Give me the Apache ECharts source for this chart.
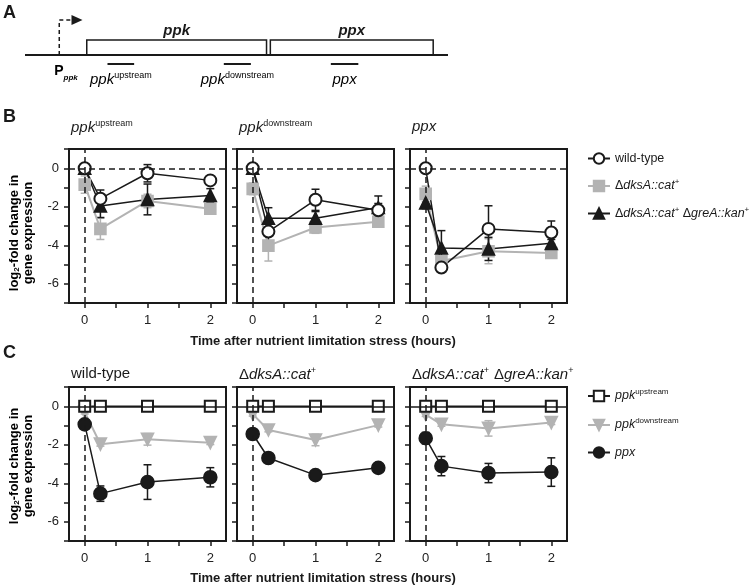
<!DOCTYPE html>
<html>
<head>
<meta charset="utf-8">
<script src="https://cdn.jsdelivr.net/npm/echarts@6/dist/echarts.min.js"></script>
<style>html,body{margin:0;padding:0;background:#fff}</style>
</head>
<body>
<div id="chart" style="width:750px;height:586px;"></div>
<script>
// ---- panel A : operon map (arbitrary position units 0..100) ----
const operonSpan = [0, 100];
const geneNames = ['ppk', 'ppx'];
const geneStart = [14.6, 58.0];
const geneEnd = [57.1, 96.5];
const promoterPos = [8.1];
const arrowTip = [13.6];
const primerLabels = ['{i|ppk}{s|upstream}', '{i|ppk}{s|downstream}', '{i|ppx}'];
const primerStart = [19.5, 47.0, 72.3];
const primerEnd = [25.8, 53.4, 78.8];

// ---- panels B and C : time course ----
const timePoints = [0, 0.25, 1, 2];
const xTicks = [0, 0.5, 1, 1.5, 2];
const xLabels = [0, 1, 2];
const yLabels = [0, -2, -4, -6];

// panel B, rows = ppk upstream / ppk downstream / ppx
const wtB = [[0, -1.58, -0.26, -0.63], [0, -3.29, -1.64, -2.18], [0, -5.16, -3.15, -3.34]];
const wtBErr = [[0.1, 0.45, 0.45, 0.2], [0.1, 0.5, 0.55, 0.35], [0.1, 0.1, 1.2, 0.6]];
const dksB = [[-0.85, -3.15, -1.7, -2.1], [-1.07, -4.02, -3.08, -2.78], [-1.33, -4.82, -4.31, -4.4]];
const dksBErr = [[0.45, 0.55, 0.35, 0.1], [0.3, 0.8, 0.3, 0.25], [0.4, 0.2, 0.65, 0.2]];
const greB = [[0, -1.96, -1.62, -1.41], [0, -2.6, -2.6, -2.04], [-1.8, -4.14, -4.19, -3.9]];
const greBErr = [[0.1, 0.6, 0.8, 0.35], [0.1, 0.55, 0.35, 0.6], [0.3, 0.9, 0.6, 0.2]];

// panel C, rows = wild-type / dksA / dksA greA
const upC = [[0, 0, 0, 0], [0, 0, 0, 0], [0, 0, 0, 0]];
const upCErr = [[0.05, 0.05, 0.05, 0.05], [0.05, 0.05, 0.05, 0.05], [0.05, 0.05, 0.05, 0.05]];
const downC = [[-0.3, -1.97, -1.72, -1.89], [-0.41, -1.23, -1.75, -0.98], [-0.43, -0.94, -1.15, -0.85]];
const downCErr = [[0.1, 0.1, 0.3, 0.1], [0.1, 0.1, 0.3, 0.1], [0.1, 0.1, 0.4, 0.1]];
const ppxC = [[-0.94, -4.54, -3.94, -3.69], [-1.44, -2.69, -3.58, -3.2], [-1.66, -3.11, -3.47, -3.42]];
const ppxCErr = [[0.1, 0.4, 0.9, 0.5], [0.1, 0.1, 0.1, 0.1], [0.3, 0.5, 0.5, 0.74]];

const titlesB = ['{i|ppk}{s|upstream}', '{i|ppk}{s|downstream}', '{i|ppx}'];
const titlesC = ['{n|wild-type}', '{n|Δ}{i|dksA::cat}{s|+}', '{n|Δ}{i|dksA::cat}{s|+} {n|Δ}{i|greA::kan}{s|+}'];

const FONT = '"Liberation Sans", Arial, Helvetica, sans-serif';
const BLACK = '#1a1a1a';
const GRAY = '#b3b3b3';
const richText = {
  i: { fontStyle: 'italic', fontWeight: 'normal', fontSize: 15, fontFamily: FONT, color: BLACK },
  n: { fontWeight: 'normal', fontSize: 15, fontFamily: FONT, color: BLACK },
  s: { fontWeight: 'normal', fontSize: 9, fontFamily: FONT, color: BLACK, verticalAlign: 'top', lineHeight: 18 }
};
const legendRich = {
  i: { fontStyle: 'italic', fontSize: 12.5, fontFamily: FONT, color: BLACK },
  n: { fontSize: 12.5, fontFamily: FONT, color: BLACK },
  s: { fontSize: 8, fontFamily: FONT, color: BLACK, verticalAlign: 'top', lineHeight: 16 }
};

const gridLefts = [69, 237, 410];
const rowTops = [149, 387];

var chart = echarts.init(document.getElementById('chart'));

const grids = [], xAxes = [], yAxes = [], series = [], titles = [];

rowTops.forEach(function (top, r) {
  gridLefts.forEach(function (left, c) {
    grids.push({ left: left, top: top, width: 157, height: 154, show: true,
      borderColor: BLACK, borderWidth: 2, backgroundColor: 'transparent' });
    const gi = grids.length - 1;
    xAxes.push({
      type: 'value', gridIndex: gi, min: -0.25, max: 2.25,
      axisLine: { show: true, onZero: false, lineStyle: { color: BLACK, width: 2 } },
      axisTick: { show: true, customValues: xTicks, length: 5, lineStyle: { color: BLACK, width: 1.5 } },
      axisLabel: { customValues: xLabels, color: '#222', fontSize: 13, fontFamily: FONT, margin: 11 },
      splitLine: { show: false }
    });
    yAxes.push({
      type: 'value', gridIndex: gi, min: -7, max: 1, interval: 1,
      axisLine: { show: true, onZero: false, lineStyle: { color: BLACK, width: 2 } },
      axisTick: { show: true, length: 5, lineStyle: { color: BLACK, width: 1.5 } },
      axisLabel: { show: c === 0, customValues: yLabels, color: '#222', fontSize: 13, fontFamily: FONT, margin: 10 },
      splitLine: { show: false }
    });
    titles.push({
      text: r === 0 ? titlesB[c] : titlesC[c],
      left: left + 2, top: r === 0 ? 119 : 366, padding: 0,
      textStyle: { fontWeight: 'normal', rich: richText }
    });
  });
});

function errorBars(gi, vals, errs, color) {
  return {
    type: 'custom', xAxisIndex: gi, yAxisIndex: gi, z: 1, silent: true,
    data: timePoints.map(function (t, i) { return [t, vals[i], errs[i]]; }),
    encode: { x: 0, y: 1 },
    renderItem: function (params, api) {
      const x = api.value(0), y = api.value(1), e = api.value(2);
      const a = api.coord([x, y + e]);
      const b = api.coord([x, y - e]);
      const hw = 4;
      const st = { stroke: color, lineWidth: 1.5 };
      return { type: 'group', children: [
        { type: 'line', shape: { x1: a[0], y1: a[1], x2: b[0], y2: b[1] }, style: st },
        { type: 'line', shape: { x1: a[0] - hw, y1: a[1], x2: a[0] + hw, y2: a[1] }, style: st },
        { type: 'line', shape: { x1: b[0] - hw, y1: b[1], x2: b[0] + hw, y2: b[1] }, style: st }
      ] };
    }
  };
}

function lineSeries(name, gi, vals, color, symbol, size, rotate, width) {
  return {
    type: 'line', name: name, xAxisIndex: gi, yAxisIndex: gi, z: 3,
    data: timePoints.map(function (t, i) { return [t, vals[i]]; }),
    symbol: symbol, symbolSize: size, symbolRotate: rotate || 0, showSymbol: true,
    lineStyle: { color: color, width: width },
    itemStyle: { color: color, borderColor: color, borderWidth: 1.6 },
    emphasis: { disabled: true }, animation: false
  };
}

const dashed = { color: BLACK, width: 1.5, type: [6, 4] };

// panel B
for (let c = 0; c < 3; c++) {
  const gi = c;
  series.push(errorBars(gi, dksB[c], dksBErr[c], GRAY));
  series.push(errorBars(gi, greB[c], greBErr[c], BLACK));
  series.push(errorBars(gi, wtB[c], wtBErr[c], BLACK));
  const s1 = lineSeries('dks', gi, dksB[c], GRAY, 'rect', 11, 0, 2);
  s1.markLine = { silent: true, symbol: 'none', label: { show: false }, lineStyle: dashed,
    data: [{ yAxis: 0 }, { xAxis: 0 }] };
  series.push(s1);
  series.push(lineSeries('gre', gi, greB[c], BLACK, 'triangle', 12, 0, 1.5));
  series.push(lineSeries('wt', gi, wtB[c], BLACK, 'emptyCircle', 12, 0, 1.5));
}

// panel C
for (let c = 0; c < 3; c++) {
  const gi = 3 + c;
  series.push(errorBars(gi, downC[c], downCErr[c], GRAY));
  series.push(errorBars(gi, ppxC[c], ppxCErr[c], BLACK));
  series.push(errorBars(gi, upC[c], upCErr[c], BLACK));
  const s1 = lineSeries('down', gi, downC[c], GRAY, 'triangle', 12, 180, 2);
  s1.markLine = { silent: true, symbol: 'none', label: { show: false },
    data: [
      { xAxis: 0, lineStyle: dashed },
      { yAxis: 0, lineStyle: { color: BLACK, width: 1.5, type: 'solid' } }
    ] };
  series.push(s1);
  series.push(lineSeries('ppx', gi, ppxC[c], BLACK, 'circle', 13, 0, 1.5));
  series.push(lineSeries('up', gi, upC[c], BLACK, 'emptyRect', 11, 0, 1.5));
}

// panel A grid (hidden axes)
grids.push({ left: 25, top: 10, width: 423, height: 75, show: false });
xAxes.push({ type: 'value', gridIndex: 6, min: 0, max: 100, show: false });
yAxes.push({ type: 'value', gridIndex: 6, min: -2, max: 3, show: false });

const geneTop = 1, geneLabelY = 1.6, primerY = -0.6, primerLabelY = -1.67, promoterTop = 2.33, pLabelY = -1.05;

series.push({
  type: 'custom', xAxisIndex: 6, yAxisIndex: 6, silent: true,
  data: [[operonSpan[0], operonSpan[1], 0]], encode: { x: [0, 1], y: 2 },
  renderItem: function (params, api) {
    const a = api.coord([api.value(0), 0]), b = api.coord([api.value(1), 0]);
    return { type: 'line', shape: { x1: a[0], y1: a[1], x2: b[0], y2: b[1] }, style: { stroke: BLACK, lineWidth: 2 } };
  }
});
series.push({
  type: 'custom', xAxisIndex: 6, yAxisIndex: 6, silent: true,
  data: geneStart.map(function (s, i) { return [s, geneEnd[i], 0]; }), encode: { x: [0, 1], y: 2 },
  renderItem: function (params, api) {
    const p0 = api.coord([api.value(0), geneTop]);
    const p1 = api.coord([api.value(1), 0]);
    const mid = api.coord([(api.value(0) + api.value(1)) / 2, geneLabelY]);
    return { type: 'group', children: [
      { type: 'rect', shape: { x: p0[0], y: p0[1], width: p1[0] - p0[0], height: p1[1] - p0[1] },
        style: { fill: 'none', stroke: BLACK, lineWidth: 1.5 } },
      { type: 'text', x: mid[0], y: mid[1],
        style: { text: geneNames[params.dataIndex], font: 'italic bold 15px ' + FONT, fill: BLACK, align: 'center', verticalAlign: 'middle' } }
    ] };
  }
});
series.push({
  type: 'custom', xAxisIndex: 6, yAxisIndex: 6, silent: true,
  data: primerStart.map(function (s, i) { return [s, primerEnd[i], primerY]; }), encode: { x: [0, 1], y: 2 },
  renderItem: function (params, api) {
    const a = api.coord([api.value(0), primerY]), b = api.coord([api.value(1), primerY]);
    const m = api.coord([(api.value(0) + api.value(1)) / 2, primerLabelY]);
    return { type: 'group', children: [
      { type: 'line', shape: { x1: a[0], y1: a[1], x2: b[0], y2: b[1] }, style: { stroke: BLACK, lineWidth: 2 } },
      { type: 'text', x: m[0], y: m[1],
        style: { text: primerLabels[params.dataIndex], align: 'center', verticalAlign: 'middle', rich: richText } }
    ] };
  }
});
series.push({
  type: 'custom', xAxisIndex: 6, yAxisIndex: 6, silent: true,
  data: promoterPos.map(function (p, i) { return [p, arrowTip[i], 0]; }), encode: { x: [0, 1], y: 2 },
  renderItem: function (params, api) {
    const base = api.coord([api.value(0), 0]);
    const top = api.coord([api.value(0), promoterTop]);
    const tip = api.coord([api.value(1), promoterTop]);
    const lbl = api.coord([api.value(0), pLabelY]);
    const al = 11;
    return { type: 'group', children: [
      { type: 'polyline', shape: { points: [base, top, [tip[0] - al, tip[1]]] },
        style: { stroke: BLACK, lineWidth: 1.5, fill: 'none', lineDash: [4, 3] } },
      { type: 'polygon', shape: { points: [[tip[0], tip[1]], [tip[0] - al, tip[1] - 5], [tip[0] - al, tip[1] + 5]] },
        style: { fill: BLACK } },
      { type: 'text', x: lbl[0] - 5, y: lbl[1],
        style: { text: '{p|P}{q|ppk}', align: 'left', verticalAlign: 'middle',
          rich: { p: { fontSize: 14, fontWeight: 'bold', fontFamily: FONT, color: BLACK },
                  q: { fontSize: 8, fontWeight: 'bold', fontStyle: 'italic', fontFamily: FONT, color: BLACK, verticalAlign: 'bottom', lineHeight: 22 } } } }
    ] };
  }
});

// panel letters
['A', 'B', 'C'].forEach(function (t, i) {
  titles.push({ text: t, left: 3, top: [4, 108, 344][i], padding: 0,
    textStyle: { fontSize: 18, fontWeight: 'bold', fontFamily: FONT, color: BLACK } });
});

const legendNamesB = { wt: '{n|wild-type}', dks: '{n|Δ}{i|dksA::cat}{s|+}', gre: '{n|Δ}{i|dksA::cat}{s|+} {n|Δ}{i|greA::kan}{s|+}' };
const legendNamesC = { up: '{i|ppk}{s|upstream}', down: '{i|ppk}{s|downstream}', ppx: '{i|ppx}' };

const yName = '{b|log}{sub|2}{b|-fold change in}\n{b|gene expression}';
const yNameRich = {
  b: { fontSize: 13, fontWeight: 'bold', fontFamily: FONT, color: BLACK, lineHeight: 14 },
  sub: { fontSize: 8, fontWeight: 'bold', fontFamily: FONT, color: BLACK, verticalAlign: 'bottom', lineHeight: 14 }
};
const xName = 'Time after nutrient limitation stress (hours)';

chart.setOption({
  backgroundColor: '#fff',
  animation: false,
  textStyle: { fontFamily: FONT },
  title: titles,
  grid: grids,
  xAxis: xAxes,
  yAxis: yAxes,
  legend: [
    { data: ['wt', 'dks', 'gre'], orient: 'vertical', left: 582, top: 147, itemWidth: 22, itemHeight: 13, itemGap: 13,
      formatter: function (n) { return legendNamesB[n]; }, textStyle: { rich: legendRich }, selectedMode: false },
    { data: ['up', 'down', 'ppx'], orient: 'vertical', left: 582, top: 383, itemWidth: 22, itemHeight: 13, itemGap: 14.5,
      formatter: function (n) { return legendNamesC[n]; }, textStyle: { rich: legendRich }, selectedMode: false }
  ],
  graphic: [
    { type: 'text', x: 21, y: 233, rotation: Math.PI / 2,
      style: { text: yName, rich: yNameRich, align: 'center', verticalAlign: 'middle' } },
    { type: 'text', x: 21, y: 466, rotation: Math.PI / 2,
      style: { text: yName, rich: yNameRich, align: 'center', verticalAlign: 'middle' } },
    { type: 'text', x: 323, y: 341,
      style: { text: xName, font: 'bold 13px ' + FONT, fill: BLACK, align: 'center', verticalAlign: 'middle' } },
    { type: 'text', x: 323, y: 578,
      style: { text: xName, font: 'bold 13px ' + FONT, fill: BLACK, align: 'center', verticalAlign: 'middle' } }
  ],
  series: series
});
window.onresize = function () { chart.resize(); };
</script>
</body>
</html>
